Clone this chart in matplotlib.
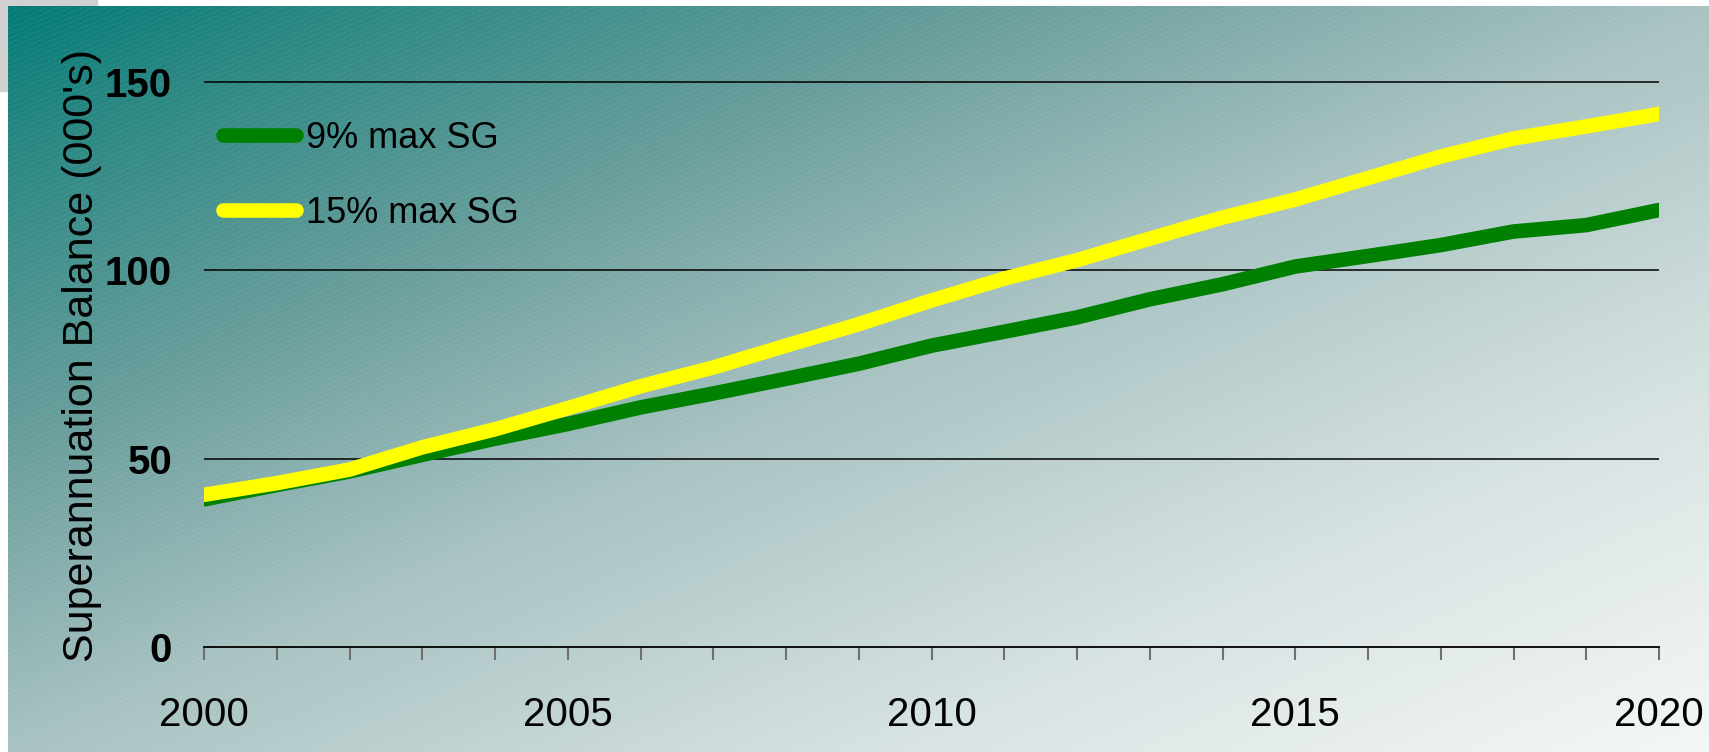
import numpy as np
import matplotlib
matplotlib.use("Agg")
import matplotlib.pyplot as plt
from matplotlib.collections import LineCollection
from matplotlib.patches import Rectangle

years = list(range(2000, 2021))
sg_9 = [39.2, 43.0, 46.6, 51.0, 55.3, 59.2, 63.6, 67.3, 71.2, 75.2, 80.0,
        83.7, 87.5, 92.3, 96.3, 101.0, 103.8, 106.7, 110.3, 112.0, 116.0]
sg_15 = [40.4, 43.5, 47.1, 53.0, 57.8, 63.4, 69.2, 74.2, 80.0, 85.7, 92.0,
         97.8, 102.7, 108.4, 114.0, 118.8, 124.5, 130.2, 135.0, 138.2, 141.5]
series_labels = ["9% max SG", "15% max SG"]
y_ticks = [0, 50, 100, 150]
x_ticks = [2000, 2005, 2010, 2015, 2020]

W, H = 1709, 752
fig = plt.figure(figsize=(W / 100, H / 100), dpi=100)

# slide background: grey corner block behind a diagonal teal -> white panel
bg = fig.add_axes([0, 0, 1, 1], zorder=-5)
bg.set_xlim(0, W)
bg.set_ylim(H, 0)
bg.axis("off")
bg.add_patch(Rectangle((0, 0), 97, 91, color="#d0d0d0", zorder=0))

x0, y0 = 8, 6
xx, yy = np.meshgrid(np.arange(x0, W), np.arange(y0, H))
t = xx / W + yy / H
stops = [0, 0.2, 0.6, 1.0, 1.5, 2.0]
cols = np.array([(0, 122, 118), (40, 135, 130), (105, 158, 156),
                 (168, 194, 194), (215, 226, 226), (245, 247, 247)]) / 255
img = np.stack([np.interp(t, stops, cols[:, k]) for k in range(3)], axis=-1)
bg.imshow(img, extent=(x0, W, H, y0), aspect="auto", interpolation="bilinear",
          zorder=1)
bg.set_xlim(0, W)
bg.set_ylim(H, 0)

# faint diagonal texture lines over the panel
slope = -0.42
offsets = np.arange(-0.42 * W - 10, H + 10, 5.0)
segs = [[(x0, c + slope * x0), (W, c + slope * W)] for c in offsets]
tex = LineCollection(segs, colors="white", linewidths=0.5, alpha=0.16,
                     linestyles=(0, (2, 1.5)), zorder=2)
tex.set_clip_path(Rectangle((x0, y0), W - x0, H - y0, transform=bg.transData))
bg.add_collection(tex)

ax = fig.add_axes([204 / W, 105 / H, 1455 / W, 0.80146])
ax.patch.set_alpha(0)
ax.set_xlim(2000, 2020)
ax.set_ylim(0, 160)

for v in y_ticks[1:]:
    ax.axhline(v, color="black", lw=1.1, zorder=1)
for s in ["top", "right", "left"]:
    ax.spines[s].set_visible(False)
ax.spines["bottom"].set_color("black")
ax.spines["bottom"].set_linewidth(1.3)

ax.plot(years, sg_9, color="#008000", lw=10.5, solid_capstyle="round",
        solid_joinstyle="round", label=series_labels[0], zorder=3)
ax.plot(years, sg_15, color="#ffff00", lw=10.5, solid_capstyle="round",
        solid_joinstyle="round", label=series_labels[1], zorder=4)

font = ["Liberation Sans", "DejaVu Sans"]

ax.set_xticks(years, minor=True)
ax.set_xticks(x_ticks)
ax.set_xticklabels([str(x) for x in x_ticks], family=font, fontsize=29)
ax.tick_params(axis="x", which="both", direction="out", length=9.5, width=1.5,
               color="#707070", pad=26)
ax.set_yticks(y_ticks)
ax.set_yticklabels([str(v) for v in y_ticks], family=font, fontsize=29,
                   fontweight="bold")
ax.tick_params(axis="y", length=0, pad=23)
for lab in ax.get_yticklabels():
    lab.set_verticalalignment("center_baseline")

fig.text(82 / W, 1 - 355 / H, "Superannuation Balance (000's)", family=font,
         fontsize=31, rotation=90, ha="center", va="center")

leg = ax.legend(loc="upper left", bbox_to_anchor=(-0.009, 0.927), frameon=False,
                prop={"family": font, "size": 26}, handlelength=2.0,
                handletextpad=0.3, labelspacing=1.1, borderaxespad=0.5)

fig.savefig("out.png", dpi=100)
